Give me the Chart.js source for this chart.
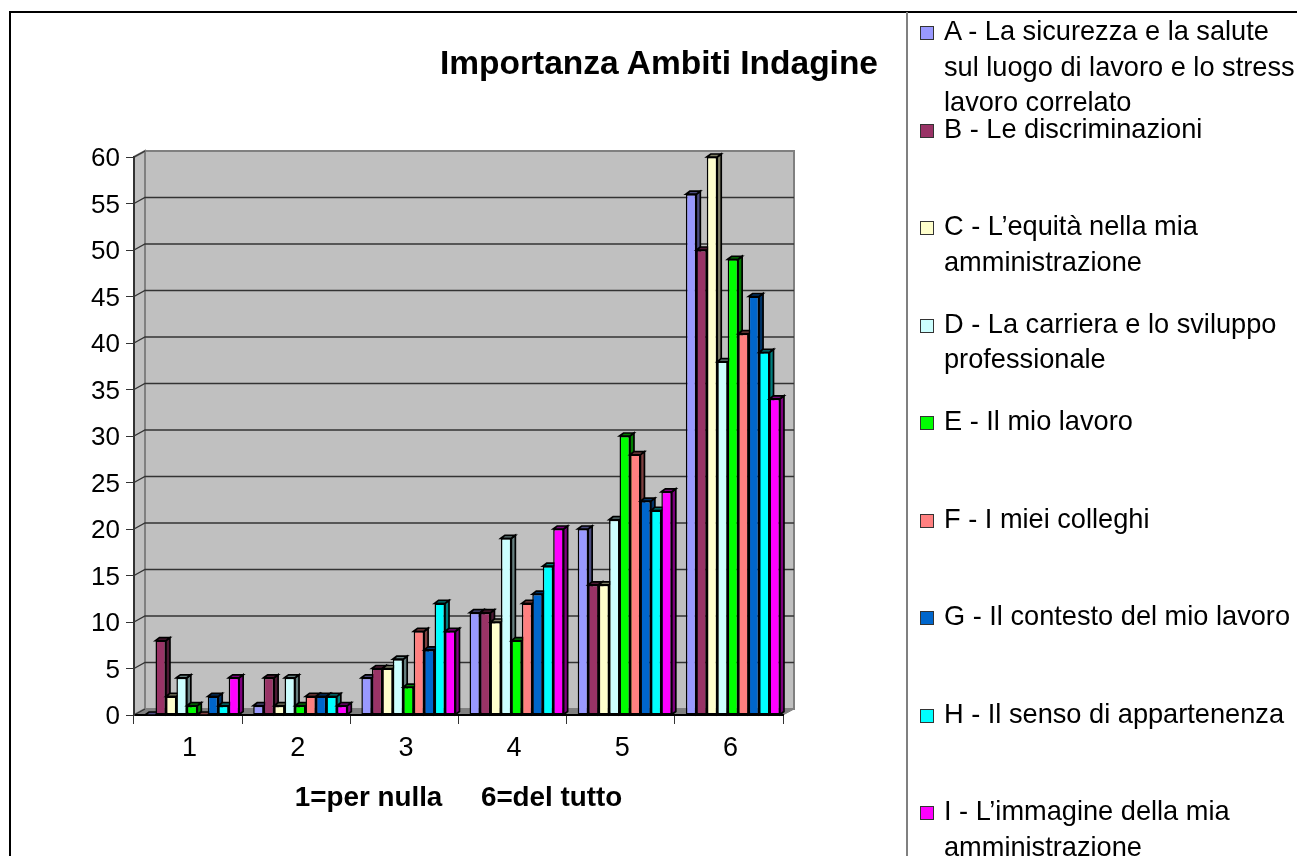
<!DOCTYPE html>
<html>
<head>
<meta charset="utf-8">
<title>Importanza Ambiti Indagine</title>
<script src="https://cdn.jsdelivr.net/npm/chart.js@4"></script>
<style>
  html, body { margin: 0; height: 100%; overflow: hidden; background: #fff; }
  body { font-family: "Liberation Sans", Arial, sans-serif; color: #000; position: relative; width: 1297px; height: 856px; }
  canvas { position: absolute; left: 0; top: 0; }
  #frame-top { position: absolute; left: 9px; top: 11px; right: 0; height: 2px; background: #000; }
  #frame-left { position: absolute; left: 9px; top: 11px; bottom: 0; width: 2px; background: #000; }
  #divider { position: absolute; left: 906px; top: 12px; bottom: 0; width: 2px; background: #808080; }
  #title { position: absolute; left: 440px; top: 43px; font-size: 33.5px; line-height: 40px; font-weight: bold; white-space: nowrap; }
  #legend { position: absolute; left: 920px; top: 13px; margin: 0; padding: 0; list-style: none; }
  #legend li { position: relative; height: 97.5px; width: 377px; }
  #legend i { position: absolute; left: 0; top: 13px; width: 12px; height: 12px; border: 1.5px solid #333; }
  #legend span { position: absolute; left: 24px; top: 0; font-size: 27.2px; line-height: 35.5px; white-space: pre; }
</style>
</head>
<body>
<canvas id="chart" width="1297" height="856"></canvas>
<div id="frame-top"></div>
<div id="frame-left"></div>
<div id="divider"></div>
<div id="title">Importanza Ambiti Indagine</div>
<ul id="legend"></ul>
<script>
const categories = ['1', '2', '3', '4', '5', '6'];
const yTicks = [0, 5, 10, 15, 20, 25, 30, 35, 40, 45, 50, 55, 60];

const serieA = [0, 1, 4, 11, 20, 56];
const serieB = [8, 4, 5, 11, 14, 50];
const serieC = [2, 1, 5, 10, 14, 60];
const serieD = [4, 4, 6, 19, 21, 38];
const serieE = [1, 1, 3, 8, 30, 49];
const serieF = [0, 2, 9, 12, 28, 41];
const serieG = [2, 2, 7, 13, 23, 45];
const serieH = [1, 2, 12, 16, 22, 39];
const serieI = [4, 1, 9, 20, 24, 34];

const names = [
  'A - La sicurezza e la salute\nsul luogo di lavoro e lo stress\nlavoro correlato',
  'B - Le discriminazioni',
  'C - L\u2019equit\u00e0 nella mia\namministrazione',
  'D - La carriera e lo sviluppo\nprofessionale',
  'E - Il mio lavoro',
  'F - I miei colleghi',
  'G - Il contesto del mio lavoro',
  'H - Il senso di appartenenza',
  'I - L\u2019immagine della mia\namministrazione'
];
const colors = ['#9999ff', '#993366', '#ffffcc', '#ccffff', '#00ff00', '#ff8080', '#0066cc', '#00ffff', '#ff00ff'];
const values = [serieA, serieB, serieC, serieD, serieE, serieF, serieG, serieH, serieI];

// depth of the fake 3d box
const wallX = 11, wallY = 6;
const barX = 4, barY = 3, barShift = 4;

function darker(hex) {
  const n = parseInt(hex.slice(1), 16);
  const r = (n >> 16) >> 1, g = ((n >> 8) & 255) >> 1, b = (n & 255) >> 1;
  return `rgb(${r},${g},${b})`;
}

function poly(ctx, pts, fill, stroke, lw) {
  ctx.beginPath();
  pts.forEach((p, i) => i ? ctx.lineTo(p[0], p[1]) : ctx.moveTo(p[0], p[1]));
  ctx.closePath();
  if (fill) { ctx.fillStyle = fill; ctx.fill(); }
  if (stroke) { ctx.strokeStyle = stroke; ctx.lineWidth = lw; ctx.stroke(); }
}

const box3d = {
  id: 'box3d',
  beforeDraw(chart) {
    const { ctx, chartArea: a, scales: { y } } = chart;
    ctx.save();
    poly(ctx, [[a.left + wallX, a.top - wallY], [a.right + wallX, a.top - wallY], [a.right + wallX, a.bottom - wallY], [a.left + wallX, a.bottom - wallY]], '#c0c0c0', '#808080', 2);
    poly(ctx, [[a.left, a.top], [a.left + wallX, a.top - wallY], [a.left + wallX, a.bottom - wallY], [a.left, a.bottom]], '#c0c0c0', '#808080', 2);
    poly(ctx, [[a.left, a.bottom], [a.left + wallX, a.bottom - wallY], [a.right + wallX, a.bottom - wallY], [a.right, a.bottom]], '#808080', '#808080', 1);
    yTicks.forEach(t => {
      const py = y.getPixelForValue(t);
      ctx.strokeStyle = '#333';
      ctx.lineWidth = 1.3;
      ctx.beginPath();
      ctx.moveTo(a.left, py);
      ctx.lineTo(a.left + wallX, py - wallY);
      if (t > 0 && t < 60) ctx.lineTo(a.right + wallX, py - wallY);
      ctx.stroke();
    });
    ctx.restore();
  },
  // draw A first so every next bar covers the side of the one before it
  beforeDatasetsDraw(chart) {
    const ctx = chart.ctx;
    ctx.save();
    ctx.translate(barShift, 0);
    chart.data.datasets.forEach((ds, i) => {
      chart.getDatasetMeta(i).data.forEach(el => {
        const w = el.width, l = el.x - w / 2, r = el.x + w / 2, t = el.y, b = el.base;
        poly(ctx, [[r, t], [r + barX, t - barY], [r + barX, b - barY], [r, b]], darker(colors[i]), '#000', 1.7);
        poly(ctx, [[l, t], [l + barX, t - barY], [r + barX, t - barY], [r, t]], darker(colors[i]), '#000', 1.7);
        el.draw(ctx);
      });
    });
    ctx.restore();
    return false;
  }
};

new Chart(document.getElementById('chart'), {
  type: 'bar',
  data: {
    labels: categories,
    datasets: values.map((v, i) => ({
      label: names[i].replace(/\n/g, ' '),
      data: v,
      backgroundColor: colors[i],
      borderColor: '#000',
      borderWidth: 1.5,
      borderSkipped: false
    }))
  },
  options: {
    responsive: false,
    animation: false,
    categoryPercentage: 0.87,
    barPercentage: 1,
    layout: { padding: { left: 0, right: 514, top: 157, bottom: 38 } },
    plugins: { legend: { display: false }, tooltip: { enabled: false } },
    font: { family: '"Liberation Sans", Arial, sans-serif' },
    scales: {
      x: {
        afterFit: s => { s.height = 103; },
        border: { color: '#000', width: 2 },
        grid: { drawOnChartArea: false, tickLength: 9, tickColor: '#333' },
        ticks: { color: '#000', font: { size: 27, family: '"Liberation Sans"' }, padding: 8, labelOffset: 1.5, maxRotation: 0 },
        title: {
          display: true,
          text: '1=per nulla     6=del tutto',
          color: '#000',
          font: { size: 27.8, weight: 'bold', family: '"Liberation Sans"' },
          padding: { top: 0, bottom: 3 }
        }
      },
      y: {
        min: 0,
        max: 60,
        afterFit: s => { s.width = 134; },
        afterBuildTicks: s => { s.ticks = yTicks.map(v => ({ value: v })); },
        border: { color: '#333', width: 2 },
        grid: { drawOnChartArea: false, tickLength: 8, tickColor: '#333' },
        ticks: { color: '#000', font: { size: 26, family: '"Liberation Sans"' }, padding: 6, labelOffset: 2 }
      }
    }
  },
  plugins: [box3d]
});

const legend = document.getElementById('legend');
names.forEach((n, i) => {
  const li = document.createElement('li');
  const box = document.createElement('i');
  box.style.background = colors[i];
  const txt = document.createElement('span');
  txt.textContent = n;
  li.append(box, txt);
  legend.appendChild(li);
});
</script>
</body>
</html>
